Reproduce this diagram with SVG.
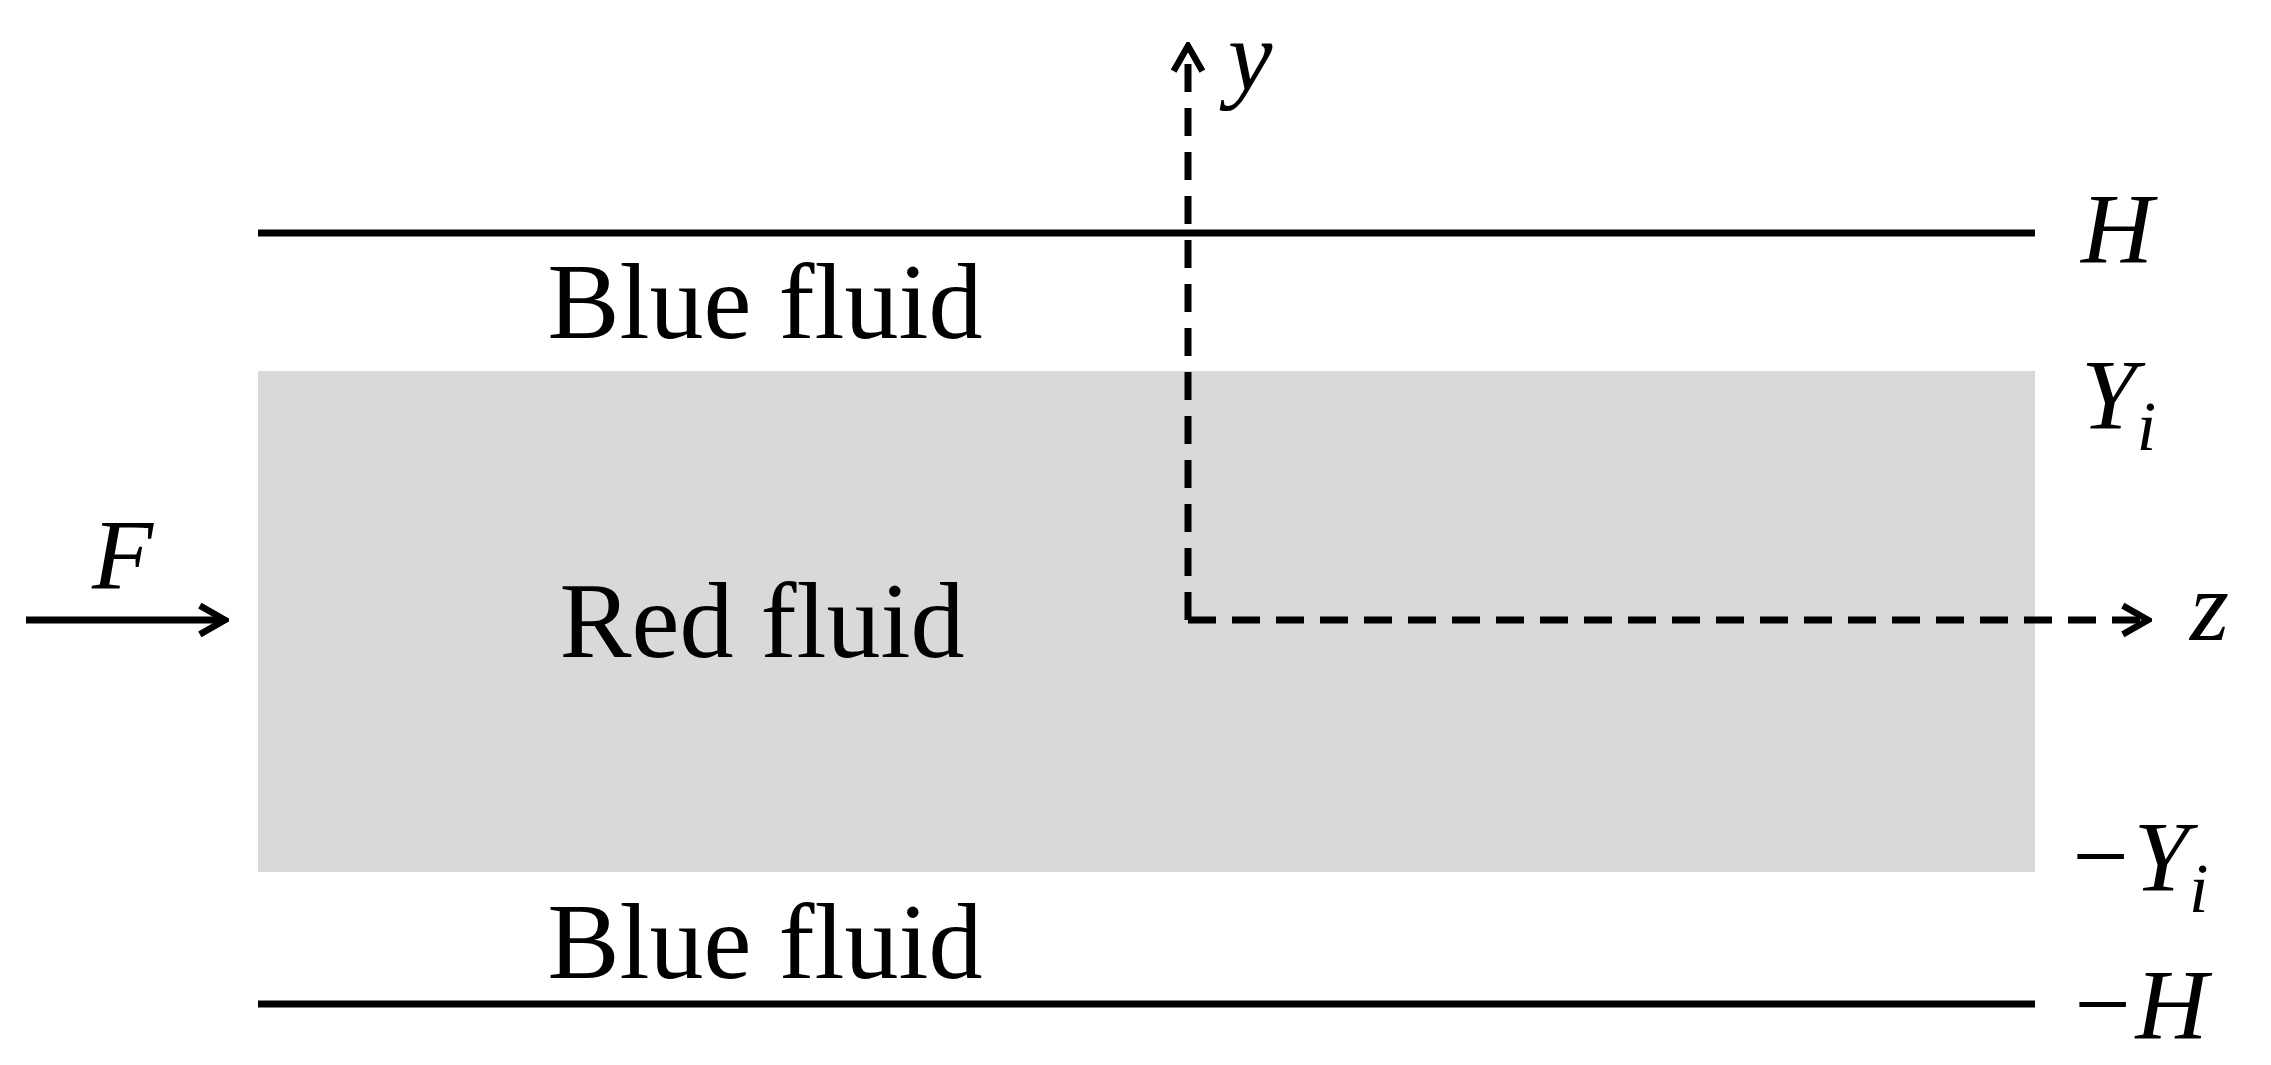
<svg xmlns="http://www.w3.org/2000/svg" width="2271" height="1065" viewBox="0 0 2271 1065">
<style>
.t{font-family:"Liberation Serif",serif;font-size:108px;fill:#000;text-anchor:middle}
.m{font-family:"Liberation Serif",serif;font-style:italic;font-size:100px;fill:#000}
.l{stroke:#000;stroke-width:7;fill:none}
.d{stroke:#000;stroke-width:7;fill:none;stroke-dasharray:28,16}
</style>
<defs>
<marker id="b" viewBox="0 0 10 10" refX="9" refY="5" markerWidth="36" markerHeight="36" markerUnits="userSpaceOnUse" orient="auto"><path d="M2,1 L9,5 L2,9" fill="none" stroke="#000" stroke-width="1.8"/></marker></defs>
<g id="red"><rect x="258" y="371" width="1777" height="501" fill="#d9d9d9"/><text class="t" x="762" y="657">Red fluid</text></g>
<g id="walls"><line class="l" x1="258" y1="233" x2="2035" y2="233"/><line class="l" x1="258" y1="1004" x2="2035" y2="1004"/></g>
<g id="blue"><text class="t" x="765" y="338">Blue fluid</text><text class="t" x="765" y="978">Blue fluid</text></g>
<g id="connectors">
<path class="d" d="M1188,620 L1188,46" marker-end="url(#b)"/>
<path class="d" d="M1188,620 L2148,620" marker-end="url(#b)"/>
<path class="l" d="M26,620 L225,620" marker-end="url(#b)"/>
</g>
<g id="labels">
<text class="m" x="1228" y="90">y</text>
<text class="m" x="2081" y="262">H</text>
<text class="m" x="2081" y="428">Y<tspan font-size="70" dy="22">i</tspan></text>
<text class="m" x="2190" y="640">z</text>
<text class="m" x="2066" y="890">−Y<tspan font-size="70" dy="22">i</tspan></text>
<text class="m" x="2068" y="1038">−H</text>
<text class="m" x="92" y="588">F</text>
</g>
</svg>
